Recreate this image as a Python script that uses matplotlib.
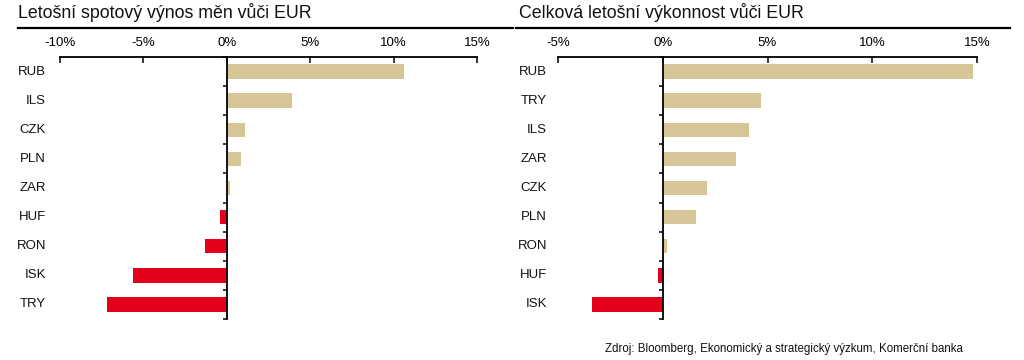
import matplotlib
matplotlib.use("Agg")
import matplotlib.pyplot as plt
import matplotlib.transforms as mtransforms
from matplotlib.lines import Line2D
import numpy as np

plt.rcParams['font.family'] = ['Liberation Sans', 'DejaVu Sans']

left_title = "Letošní spotový výnos měn vůči EUR"
left_cats = ["RUB", "ILS", "CZK", "PLN", "ZAR", "HUF", "RON", "ISK", "TRY"]
left_vals = [10.6, 3.9, 1.1, 0.85, 0.2, -0.4, -1.3, -5.6, -7.2]
left_ticks = [-10, -5, 0, 5, 10, 15]

right_title = "Celková letošní výkonnost vůči EUR"
right_cats = ["RUB", "TRY", "ILS", "ZAR", "CZK", "PLN", "RON", "HUF", "ISK"]
right_vals = [14.8, 4.7, 4.1, 3.5, 2.1, 1.6, 0.2, -0.25, -3.4]
right_ticks = [-5, 0, 5, 10, 15]

source = "Zdroj: Bloomberg, Ekonomický a strategický výzkum, Komerční banka"

POS = "#D6C596"
NEG = "#E2001A"

W, H = 1024, 360
fig = plt.figure(figsize=(W / 100, H / 100), dpi=100)


def px_axes(x0, x1, ytop, ybot):
    return fig.add_axes([x0 / W, (H - ybot) / H, (x1 - x0) / W, (ybot - ytop) / H])


def panel(ax, cats, vals, ticks, label_x):
    y = np.arange(len(cats))
    colors = [POS if v >= 0 else NEG for v in vals]
    ax.barh(y, vals, height=0.5, color=colors, zorder=2)
    ax.set_xlim(ticks[0], ticks[-1])
    ax.set_ylim(len(cats) - 0.5, -0.5)
    ax.set_xticks(ticks)
    ax.set_xticklabels([f"{t}%" for t in ticks])
    ax.xaxis.tick_top()
    ax.tick_params(axis='x', direction='in', length=4, width=1.1, pad=6,
                   labelsize=9.5, colors='black')
    ax.set_yticks(np.arange(-0.5, len(cats), 1.0))
    ax.set_yticklabels([])
    ax.tick_params(axis='y', direction='out', length=3, width=1.1)
    for s in ['bottom', 'right']:
        ax.spines[s].set_visible(False)
    ax.spines['left'].set_position(('data', 0))
    ax.spines['left'].set_linewidth(1.3)
    ax.spines['top'].set_linewidth(1.3)
    trans = mtransforms.blended_transform_factory(fig.transFigure, ax.transData)
    for yi, c in zip(y, cats):
        ax.text(label_x / W, yi, c, transform=trans, ha='right', va='center',
                fontsize=9.5, color='#111111')


ax1 = px_axes(60, 477, 57, 319)
panel(ax1, left_cats, left_vals, left_ticks, 46)
ax2 = px_axes(558, 977, 57, 319)
panel(ax2, right_cats, right_vals, right_ticks, 547)

fig.text(18 / W, 1 - 13 / H, left_title, ha='left', va='center', fontsize=12.8, color='#111111')
fig.text(519 / W, 1 - 13 / H, right_title, ha='left', va='center', fontsize=12.8, color='#111111')
fig.add_artist(Line2D([18 / W, 513 / W], [1 - 28 / H, 1 - 28 / H], color='black', lw=1.6,
                      transform=fig.transFigure))
fig.add_artist(Line2D([516 / W, 1010 / W], [1 - 28 / H, 1 - 28 / H], color='black', lw=1.6,
                      transform=fig.transFigure))
fig.text(963 / W, 1 - 349 / H, source, ha='right', va='center', fontsize=8.3, color='#111111')

fig.savefig("out.png", dpi=100)
